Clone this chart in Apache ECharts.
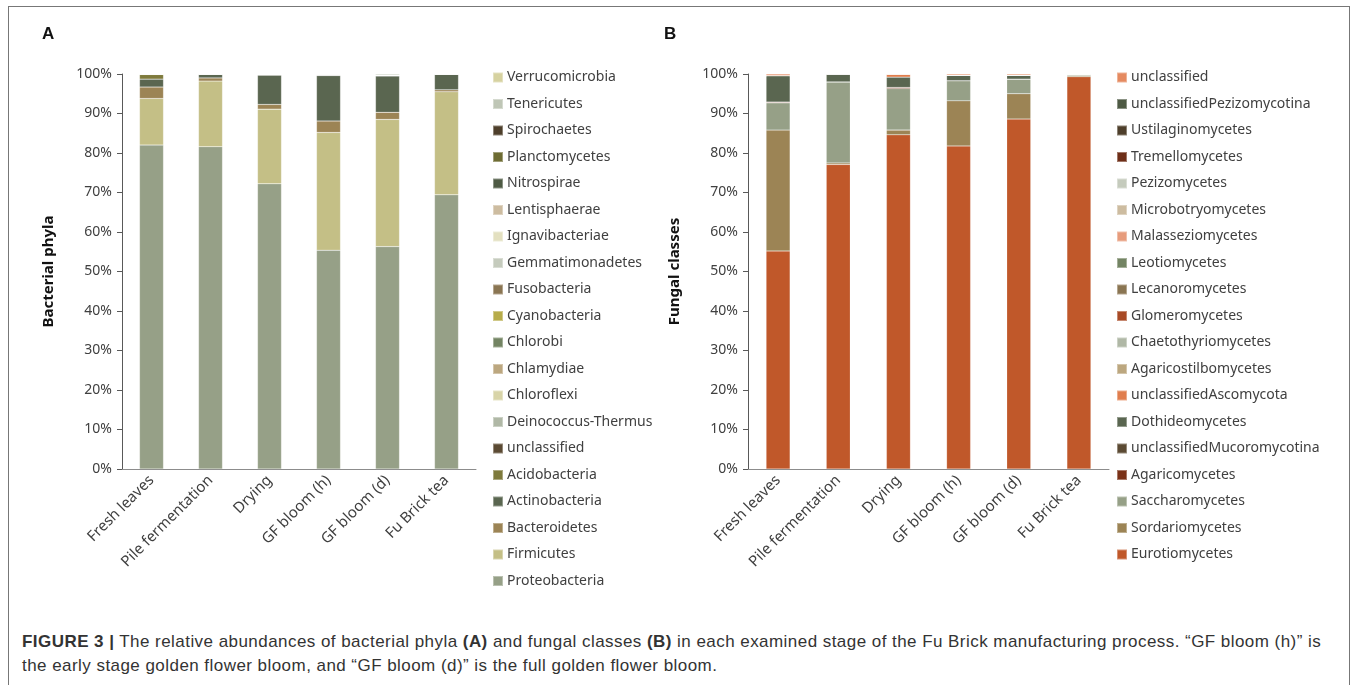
<!DOCTYPE html>
<html>
<head>
<meta charset="utf-8">
<script src="https://cdn.jsdelivr.net/npm/echarts@6/dist/echarts.min.js"></script>
<style>
  body { margin: 0; background: #fff; }
  #frame { position: absolute; left: 8px; top: 6px; width: 1340px; height: 700px; border: 1px solid #777; border-bottom: none; }
  #chartA { position: absolute; left: 0; top: 0; width: 680px; height: 600px; }
  #chartB { position: absolute; left: 628px; top: 0; width: 729px; height: 600px; }
  .tag { position: absolute; font: bold 17px "Liberation Sans", Arial, sans-serif; color: #111; }
  #caption { position: absolute; left: 22px; top: 630px; width: 1330px; white-space: nowrap; font: 17px "Liberation Sans", Arial, sans-serif; color: #333; line-height: 24px; letter-spacing: 0.45px; }
</style>
</head>
<body>
<div id="frame"></div>
<div id="chartA"></div>
<div id="chartB"></div>
<div class="tag" style="left:42px;top:24px;">A</div>
<div class="tag" style="left:664px;top:24px;">B</div>
<div id="caption"><b>FIGURE 3 |</b> The relative abundances of bacterial phyla <b>(A)</b> and fungal classes <b>(B)</b> in each examined stage of the Fu Brick manufacturing process. “GF bloom (h)” is<br>the early stage golden flower bloom, and “GF bloom (d)” is the full golden flower bloom.</div>
<script>
// 样品阶段
var stages = ['Fresh leaves', 'Pile fermentation', 'Drying', 'GF bloom (h)', 'GF bloom (d)', 'Fu Brick tea'];
var yTicks = [0, 10, 20, 30, 40, 50, 60, 70, 80, 90, 100];

// 细菌门 (从下往上堆叠)
var bacNames = ['Proteobacteria', 'Firmicutes', 'Bacteroidetes', 'Actinobacteria', 'Acidobacteria', 'unclassified',
  'Deinococcus-Thermus', 'Chloroflexi', 'Chlamydiae', 'Chlorobi', 'Cyanobacteria', 'Fusobacteria',
  'Gemmatimonadetes', 'Ignavibacteriae', 'Lentisphaerae', 'Nitrospirae', 'Planctomycetes', 'Spirochaetes',
  'Tenericutes', 'Verrucomicrobia'];
var bacColors = ['#96a087', '#c4bf86', '#9c8455', '#5a6650', '#7e7a3c', '#5b4a33',
  '#b0b8a6', '#d8d4a8', '#bca77f', '#738463', '#b7ac4a', '#8a7552',
  '#c5cbbd', '#e3e0c0', '#cdbca0', '#4e5a44', '#6e6c33', '#4e3f2b',
  '#bfc6b6', '#d6d2a0'];
var proteobacteria = [82.0, 81.6, 72.2, 55.4, 56.3, 69.4];
var firmicutes     = [11.8, 16.6, 18.9, 29.8, 32.2, 26.1];
var bacteroidetes  = [2.9, 0.8, 1.2, 2.9, 1.8, 0.5];
var actinobacteria = [2.0, 1.0, 7.4, 11.5, 9.2, 4.0];
var acidobacteria  = [1.2, 0, 0.1, 0.1, 0.1, 0];
var bacUnclass     = [0.1, 0, 0.1, 0.1, 0.1, 0];
var chloroflexi    = [0, 0, 0.1, 0.2, 0, 0];
var tenericutes    = [0, 0, 0, 0, 0.3, 0];
var zeros = [0, 0, 0, 0, 0, 0];
var bacValues = [proteobacteria, firmicutes, bacteroidetes, actinobacteria, acidobacteria, bacUnclass,
  zeros, chloroflexi, zeros, zeros, zeros, zeros, zeros, zeros, zeros, zeros, zeros, zeros, tenericutes, zeros];

// 真菌纲 (从下往上堆叠)
var funNames = ['Eurotiomycetes', 'Sordariomycetes', 'Saccharomycetes', 'Agaricomycetes', 'unclassifiedMucoromycotina',
  'Dothideomycetes', 'unclassifiedAscomycota', 'Agaricostilbomycetes', 'Chaetothyriomycetes', 'Glomeromycetes',
  'Lecanoromycetes', 'Leotiomycetes', 'Malasseziomycetes', 'Microbotryomycetes', 'Pezizomycetes',
  'Tremellomycetes', 'Ustilaginomycetes', 'unclassifiedPezizomycotina', 'unclassified'];
var funColors = ['#c0582a', '#9c8455', '#96a087', '#7a3218', '#5b4a33',
  '#5a6650', '#e07e4e', '#bca77f', '#b0b8a6', '#a84a26',
  '#8a7552', '#738463', '#e79c7c', '#cdbca0', '#c5cbbd',
  '#6e2e18', '#4e3f2b', '#4e5a44', '#e58a60'];
var eurotiomycetes  = [55.2, 77.1, 84.6, 81.8, 88.6, 99.3];
var sordariomycetes = [30.6, 0.4, 1.2, 11.4, 6.4, 0.3];
var saccharomycetes = [6.9, 20.5, 10.5, 5.1, 3.7, 0.4];
var agaricomycetes  = [0.2, 0, 0.3, 0, 0, 0];
var dothideomycetes = [6.7, 2.0, 2.6, 1.4, 1.0, 0];
var uncAscomycota   = [0, 0, 0.8, 0, 0, 0];
var funUnclass      = [0.4, 0, 0, 0.3, 0.3, 0];
var funValues = [eurotiomycetes, sordariomycetes, saccharomycetes, agaricomycetes, zeros,
  dothideomycetes, uncAscomycota, zeros, zeros, zeros, zeros, zeros, zeros, zeros, zeros,
  zeros, zeros, zeros, funUnclass];

var FONT = 'Noto Sans';

function buildOption(names, colors, values, yName, gridLeft, gridWidth, legendLeft) {
  var series = names.map(function (n, i) {
    return {
      name: n,
      type: 'bar',
      stack: 'total',
      barWidth: 24,
      itemStyle: { color: colors[i], borderColor: 'rgba(255,255,255,0.35)', borderWidth: 0.5 },
      data: values[i]
    };
  });
  return {
    animation: false,
    textStyle: { fontFamily: FONT },
    grid: { left: gridLeft, top: 74, width: gridWidth, height: 395 },
    legend: {
      orient: 'vertical',
      left: legendLeft,
      top: 65,
      itemWidth: 10,
      itemHeight: 10,
      itemGap: 11.5,
      icon: 'rect',
      data: names.slice().reverse(),
      textStyle: { fontFamily: FONT, fontSize: 14, color: '#404040', lineHeight: 15, padding: [0, 0, 0, -1] }
    },
    xAxis: {
      type: 'category',
      data: stages,
      axisLine: { lineStyle: { color: '#8c8c8c' } },
      axisTick: { show: false },
      axisLabel: { rotate: 45, fontSize: 15, color: '#404040', margin: 9, interval: 0 }
    },
    yAxis: {
      type: 'value',
      min: 0,
      max: 100,
      interval: 10,
      name: yName,
      nameLocation: 'middle',
      nameGap: 66,
      nameRotate: 90,
      nameTextStyle: { fontFamily: FONT, fontWeight: 'bold', fontSize: 15, color: '#111' },
      axisLine: { show: true, lineStyle: { color: '#595959' } },
      axisTick: { show: true, length: 5, lineStyle: { color: '#595959' } },
      splitLine: { show: false },
      axisLabel: { fontSize: 14, color: '#404040', margin: 10, formatter: '{value}%' }
    },
    series: series
  };
}

var chartA = echarts.init(document.getElementById('chartA'));
chartA.setOption(buildOption(bacNames, bacColors, bacValues, 'Bacterial phyla', 122, 354, 487));

var chartB = echarts.init(document.getElementById('chartB'));
chartB.setOption(buildOption(funNames, funColors, funValues, 'Fungal classes', 120, 361, 483));
</script>
</body>
</html>
